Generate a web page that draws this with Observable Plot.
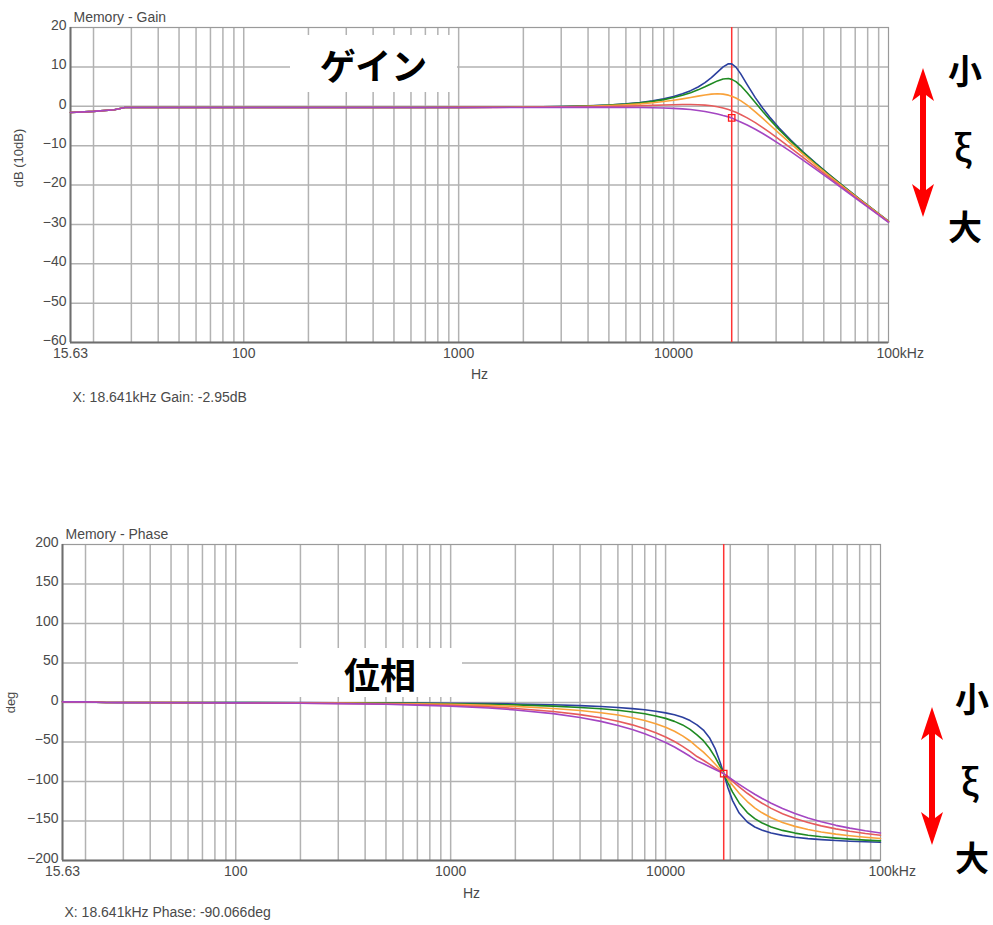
<!DOCTYPE html>
<html>
<head>
<meta charset="utf-8">
<script src="https://cdn.jsdelivr.net/npm/d3@7"></script>
<script src="https://cdn.jsdelivr.net/npm/@observablehq/plot@0.6"></script>
<style>
  body { margin: 0; background: #fff; }
  #page { position: relative; width: 993px; height: 925px; overflow: hidden; background: #fff; }
  .chart { position: absolute; left: 0; }
  .chart svg { display: block; }
  .box { position: absolute; background: #fff; display: flex; align-items: center; justify-content: center;
         font-family: "Noto Sans CJK JP", sans-serif; font-weight: 700; font-size: 36px; color: #000; line-height: 1; }
  .jp { position: absolute; width: 60px; text-align: center; font-family: "Noto Sans CJK JP", sans-serif;
        font-weight: 700; font-size: 34px; line-height: 1; color: #000; }
  .xi { font-weight: 500; font-size: 36px; }
  #deco { position: absolute; left: 0; top: 0; pointer-events: none; }
</style>
</head>
<body>
<div id="page">
  <div id="gain" class="chart" style="top:0px"></div>
  <div id="phase" class="chart" style="top:500px"></div>
  <div class="box" style="left:290px;top:35px;width:167px;height:57px">ゲイン</div>
  <div class="box" style="left:298px;top:648px;width:164px;height:49px">位相</div>
  <svg id="deco" width="993" height="925">
    <polygon fill="#ff0000" points="923,68 934,101 926,95 926,190 934,184 923,217 912,184 920,190 920,95 912,101"/>
    <polygon fill="#ff0000" points="932,707 943,740 935,734 935,818 943,812 932,845 921,812 929,818 929,734 921,740"/>
  </svg>
  <div class="jp" style="left:935px;top:53px">小</div>
  <div class="jp xi" style="left:933px;top:127px">ξ</div>
  <div class="jp" style="left:935px;top:209px">大</div>
  <div class="jp" style="left:942px;top:681px">小</div>
  <div class="jp xi" style="left:940px;top:761px">ξ</div>
  <div class="jp" style="left:942px;top:840px">大</div>
</div>
<script>
// ---------- data ----------
const freqHz = [15.63, 20, 25, 28, 50, 100, 200, 300, 500, 700,
  1000, 1500, 2000, 3000, 4000, 5000, 6000, 7000, 8000, 9000,
  10000, 11000, 12000, 13000, 14000, 15000, 16000, 17000, 18000, 18641,
  19500, 20500, 22000, 24000, 26000, 28000, 31000, 35000, 40000, 46000,
  53000, 62000, 72000, 85000, 100000];

const seriesKeys = ["ζ1", "ζ2", "ζ3", "ζ4", "ζ5"];
const seriesColors = ["#2b3f9e", "#1f8a22", "#f9a23a", "#e65c5c", "#a446c2"];

const gainBlue = [-1.6, -1.3, -0.9, -0.3, -0.3, -0.3, -0.3, -0.3, -0.3, -0.3,
  -0.28, -0.25, -0.2, -0.08, 0.09, 0.32, 0.61, 0.96, 1.38, 1.87,
  2.46, 3.15, 3.96, 4.9, 6.0, 7.27, 8.66, 9.99, 10.8, 10.76,
  9.94, 8.28, 5.49, 2.2, -0.5, -2.74, -5.53, -8.53, -11.56, -14.51,
  -17.36, -20.39, -23.2, -26.25, -29.19];
const gainGreen = [-1.6, -1.3, -0.9, -0.3, -0.3, -0.3, -0.3, -0.3, -0.3, -0.3,
  -0.28, -0.25, -0.21, -0.1, 0.07, 0.28, 0.54, 0.86, 1.24, 1.68,
  2.2, 2.78, 3.44, 4.16, 4.94, 5.73, 6.44, 6.93, 7.03, 6.83,
  6.26, 5.26, 3.43, 0.93, -1.34, -3.34, -5.93, -8.79, -11.73, -14.63,
  -17.44, -20.44, -23.24, -26.27, -29.21];
const gainOrange = [-1.6, -1.3, -0.9, -0.3, -0.3, -0.3, -0.3, -0.3, -0.3, -0.3,
  -0.28, -0.26, -0.23, -0.13, 0.0, 0.16, 0.37, 0.61, 0.89, 1.19,
  1.53, 1.88, 2.24, 2.57, 2.87, 3.07, 3.16, 3.08, 2.82, 2.55,
  2.09, 1.43, 0.27, -1.41, -3.09, -4.69, -6.88, -9.44, -12.17, -14.93,
  -17.65, -20.59, -23.34, -26.35, -29.26];
const gainRed = [-1.6, -1.3, -0.9, -0.3, -0.3, -0.3, -0.3, -0.3, -0.3, -0.3,
  -0.29, -0.28, -0.26, -0.21, -0.15, -0.07, 0.02, 0.12, 0.21, 0.3,
  0.38, 0.43, 0.44, 0.39, 0.29, 0.12, -0.13, -0.45, -0.84, -1.13,
  -1.55, -2.08, -2.95, -4.17, -5.42, -6.64, -8.41, -10.57, -12.99, -15.52,
  -18.08, -20.89, -23.56, -26.5, -29.37];
const gainPurple = [-1.6, -1.3, -0.9, -0.3, -0.3, -0.3, -0.3, -0.3, -0.3, -0.3,
  -0.3, -0.3, -0.3, -0.29, -0.29, -0.29, -0.3, -0.33, -0.37, -0.44,
  -0.53, -0.67, -0.84, -1.06, -1.32, -1.63, -1.98, -2.37, -2.7, -2.95,
  -3.51, -4.0, -4.78, -5.85, -6.93, -7.99, -9.54, -11.47, -13.68, -16.04,
  -18.47, -21.17, -23.77, -26.65, -29.47];

const phaseBlue = [0.8, 0.8, 0, 0, -0.05, -0.1, -0.2, -0.3, -0.5, -0.7,
  -1.0, -1.4, -1.9, -2.9, -4.0, -5.1, -6.3, -7.7, -9.2, -11.0,
  -13.1, -15.6, -18.8, -22.9, -28.3, -34.9, -44.5, -58.3, -76.8, -90,
  -107.8, -124.2, -139.9, -151.3, -157.6, -161.5, -165.2, -168.2, -170.5, -172.3,
  -173.6, -174.7, -175.6, -176.3, -176.9];
const phaseGreen = [0.8, 0.8, 0, 0, -0.1, -0.15, -0.3, -0.45, -0.75, -1.05,
  -1.5, -2.2, -3.0, -4.6, -6.3, -7.9, -9.9, -12.0, -14.3, -17.0,
  -20.1, -23.9, -28.4, -34.0, -40.9, -48.3, -57.9, -69.2, -81.8, -90,
  -101.6, -113.4, -127.1, -139.3, -147.0, -152.2, -157.5, -161.9, -165.3, -168.0,
  -170.0, -171.7, -173.0, -174.2, -175.1];
const phaseOrange = [0.8, 0.8, 0, -0.05, -0.1, -0.25, -0.5, -0.7, -1.2, -1.7,
  -2.4, -3.7, -4.9, -7.5, -10.1, -13.0, -15.9, -19.2, -22.8, -26.8,
  -31.3, -36.4, -42.2, -48.7, -56.2, -62.8, -70.3, -77.9, -85.2, -90,
  -97.1, -104.8, -114.8, -125.4, -133.3, -139.3, -145.9, -151.8, -156.8, -160.7,
  -163.9, -166.6, -168.7, -170.6, -172.1];
const phaseRed = [0.8, 0.8, 0, -0.05, -0.2, -0.4, -0.75, -1.1, -1.9, -2.6,
  -3.7, -5.6, -7.5, -11.3, -15.3, -19.4, -23.7, -28.3, -33.1, -38.2,
  -43.6, -49.4, -55.5, -61.8, -68.4, -73.1, -78.1, -82.9, -87.2, -90,
  -94.7, -99.8, -106.8, -114.9, -121.6, -127.2, -134.0, -140.7, -146.8, -151.9,
  -156.2, -160.0, -163.0, -165.8, -168.0];
const phasePurple = [0.8, 0.8, 0, -0.1, -0.25, -0.45, -0.95, -1.4, -2.3, -3.3,
  -4.7, -7.0, -9.4, -14.1, -18.9, -23.9, -29.0, -34.2, -39.6, -45.1,
  -50.7, -56.4, -62.3, -68.1, -73.9, -77.5, -81.4, -84.9, -88.0, -90.07,
  -93.7, -97.9, -103.6, -110.3, -116.2, -121.2, -127.6, -134.3, -140.6, -146.2,
  -151.0, -155.5, -159.0, -162.4, -165.1];

const cursorHz = 18641;
const cursorGain = -2.95;
const cursorPhase = -90.066;

const gainTicks = [20, 10, 0, -10, -20, -30, -40, -50, -60];
const phaseTicks = [200, 150, 100, 50, 0, -50, -100, -150, -200];
const xTickHz = [15.63, 100, 1000, 10000];
const xTickLabels = ["15.63", "100", "1000", "10000"];
const xEndHz = [100000];
const xEndLabel = ["100kHz"];
const gridHz = [20, 30, 40, 50, 60, 70, 80, 90,
  100, 200, 300, 400, 500, 600, 700, 800, 900,
  1000, 2000, 3000, 4000, 5000, 6000, 7000, 8000, 9000,
  10000, 20000, 30000, 40000, 50000, 60000, 70000, 80000, 90000];

const gainTitle = "Memory - Gain";
const phaseTitle = "Memory - Phase";
const gainReadout = "X: 18.641kHz Gain: -2.95dB";
const phaseReadout = "X: 18.641kHz Phase: -90.066deg";
const gainYLabel = "dB (10dB)";
const phaseYLabel = "deg";
const xLabel = "Hz";

// ---------- build ----------
const gainSeries = [gainBlue, gainGreen, gainOrange, gainRed, gainPurple];
const phaseSeries = [phaseBlue, phaseGreen, phaseOrange, phaseRed, phasePurple];
const toRows = (arrs) => seriesKeys.flatMap((k, i) => freqHz.map((f, j) => ({f, v: arrs[i][j], s: k})));
const minus = (d) => d < 0 ? "\u2212" + (-d) : String(d);

const FONT = "'Liberation Sans', Arial, sans-serif";
const GRID = "#b2b2b2";
const TXT = "#4a4a4a";

function bode(opts) {
  const {rows, yDomain, yTicks, title, readout, yLabel, yLabelDy, cursorY,
         width, height, mL, mR, mT, mB, hzDy, readDy, xLabDy} = opts;
  const inner = yTicks.slice(1, -1);
  return Plot.plot({
    width, height,
    marginLeft: mL, marginRight: mR, marginTop: mT, marginBottom: mB,
    style: {fontFamily: FONT, fontSize: "14px", color: TXT, background: "transparent", overflow: "visible"},
    x: {type: "log", domain: [15.63, 100000], axis: null},
    y: {domain: yDomain, axis: null},
    color: {domain: seriesKeys, range: seriesColors},
    marks: [
      Plot.ruleX(gridHz, {x: d => d, stroke: GRID, strokeWidth: 1.5}),
      Plot.ruleY(inner, {y: d => d, stroke: GRID, strokeWidth: 1.5}),
      Plot.frame({stroke: "#9a9a9a", strokeWidth: 1.2}),
      Plot.ruleX([15.63], {x: d => d, stroke: "#6e6e6e", strokeWidth: 2}),
      Plot.ruleY([yDomain[0]], {y: d => d, stroke: "#6e6e6e", strokeWidth: 2}),
      Plot.ruleX([cursorHz], {x: d => d, stroke: "#ff3434", strokeWidth: 1.5}),
      Plot.line(rows, {x: "f", y: "v", z: "s", stroke: "s", strokeWidth: 1.6}),
      Plot.dot([{f: cursorHz, v: cursorY}], {x: "f", y: "v", symbol: "square", r: 3.6, stroke: "#ff1a1a", strokeWidth: 1.3, fill: "none"}),
      // y tick labels
      Plot.text(yTicks, {y: d => d, text: minus, frameAnchor: "left", textAnchor: "end", lineAnchor: "middle", dx: -4, dy: -2, fill: TXT}),
      // x tick labels
      Plot.text(xTickHz, {x: d => d, text: (d, i) => xTickLabels[i], frameAnchor: "bottom", lineAnchor: "top", textAnchor: "middle", dy: xLabDy, fill: TXT}),
      Plot.text(xEndHz, {x: d => d, text: (d, i) => xEndLabel[i], frameAnchor: "bottom", lineAnchor: "top", textAnchor: "start", dx: -12, dy: xLabDy, fill: TXT}),
      Plot.text([xLabel], {text: d => d, frameAnchor: "bottom", lineAnchor: "middle", textAnchor: "middle", dy: hzDy, fill: TXT}),
      Plot.text([title], {text: d => d, frameAnchor: "top-left", textAnchor: "start", lineAnchor: "middle", dx: 3, dy: -10, fill: TXT}),
      Plot.text([readout], {text: d => d, frameAnchor: "bottom-left", textAnchor: "start", lineAnchor: "middle", dx: 2, dy: readDy, fill: TXT}),
      Plot.text([yLabel], {text: d => d, frameAnchor: "left", rotate: -90, textAnchor: "middle", lineAnchor: "middle", dx: -52, dy: yLabelDy, fontSize: 13, fill: TXT})
    ]
  });
}

document.getElementById("gain").append(bode({
  rows: toRows(gainSeries), yDomain: [-60, 20], yTicks: gainTicks,
  title: gainTitle, readout: gainReadout, yLabel: gainYLabel, yLabelDy: -27, cursorY: cursorGain,
  width: 993, height: 410, mL: 70, mR: 105, mT: 27, mB: 68, hzDy: 32, readDy: 55, xLabDy: 6
}));

document.getElementById("phase").append(bode({
  rows: toRows(phaseSeries), yDomain: [-200, 200], yTicks: phaseTicks,
  title: phaseTitle, readout: phaseReadout, yLabel: phaseYLabel, yLabelDy: 0, cursorY: cursorPhase,
  width: 993, height: 425, mL: 62, mR: 113, mT: 44, mB: 65, hzDy: 33, readDy: 52, xLabDy: 6
}));
</script>
</body>
</html>
